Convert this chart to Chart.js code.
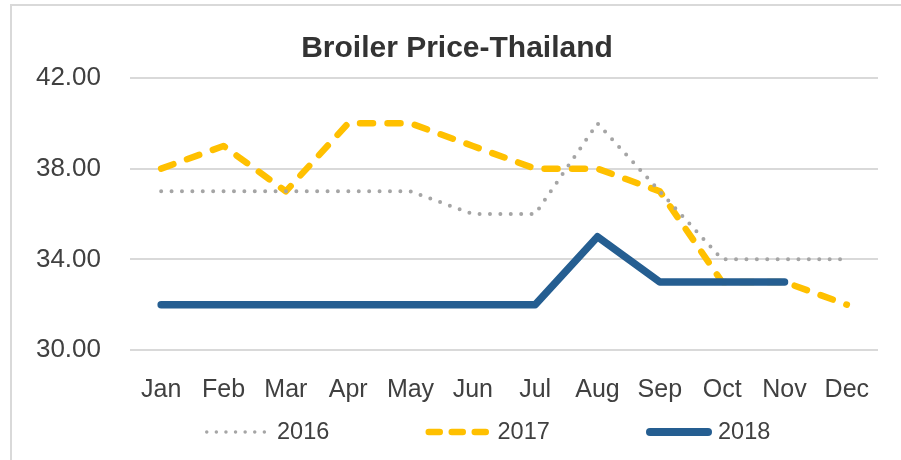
<!DOCTYPE html>
<html>
<head>
<meta charset="utf-8">
<script src="https://cdn.jsdelivr.net/npm/chart.js@4.4.1/dist/chart.umd.min.js"></script>
<style>
  html, body { margin: 0; padding: 0; background: #fff; overflow: hidden; }
  #wrap { position: relative; width: 901px; height: 460px; }
  #frame { position: absolute; left: 10px; top: 4px; width: 940px; height: 500px; border: 2px solid #d9d9d9; box-sizing: border-box; }
  canvas { position: absolute; left: 0; top: 0; }
</style>
</head>
<body>
<div id="wrap">
  <div id="frame"></div>
  <canvas id="line-chart" width="901" height="460"></canvas>
</div>
<script>
var months = ["Jan", "Feb", "Mar", "Apr", "May", "Jun", "Jul", "Aug", "Sep", "Oct", "Nov", "Dec"];
var yTicks = [30, 34, 38, 42];
var price2016 = [37, 37, 37, 37, 37, 36, 36, 40, 37, 34, 34, 34];
var price2017 = [38, 39, 37, 40, 40, 39, 38, 38, 37, 33, 33, 32];
var price2018 = [32, 32, 32, 32, 32, 32, 32, 35, 33, 33, 33, null];

var FONT = "'Liberation Sans', Arial, sans-serif";
var TEXT = "#404040";

// legend drawn by hand so it can sit where the Excel one does
var manualLegend = {
  id: "manualLegend",
  afterDraw: function (chart) {
    var ctx = chart.ctx;
    var y = 432;
    chart.data.datasets.forEach(function (ds, i) {
      var x0 = 205 + i * 220.5;
      ctx.save();
      ctx.strokeStyle = ds.borderColor;
      ctx.lineWidth = ds.legendWidth;
      ctx.lineCap = "round";
      ctx.setLineDash(ds.legendDash || []);
      ctx.beginPath();
      ctx.moveTo(x0 + ds.legendWidth / 2, y);
      ctx.lineTo(x0 + 66 - ds.legendWidth / 2, y);
      ctx.stroke();
      ctx.setLineDash([]);
      ctx.fillStyle = TEXT;
      ctx.font = "23.5px " + FONT;
      ctx.textAlign = "left";
      ctx.textBaseline = "middle";
      ctx.fillText(ds.label, x0 + 72, y + 1);
      ctx.restore();
    });
  }
};

var lineChart = new Chart(document.getElementById("line-chart"), {
  type: "line",
  data: {
    labels: months,
    datasets: [
      {
        label: "2016",
        data: price2016,
        borderColor: "#a5a5a5",
        borderWidth: 4,
        borderDash: [0, 10.4],
        borderCapStyle: "round",
        borderJoinStyle: "round",
        legendWidth: 3.5,
        legendDash: [0, 9.6],
        order: 1
      },
      {
        label: "2017",
        data: price2017,
        borderColor: "#ffc000",
        borderWidth: 6.5,
        borderDash: [13, 14.5],
        borderCapStyle: "round",
        borderJoinStyle: "round",
        legendWidth: 6.5,
        legendDash: [11, 12],
        order: 2
      },
      {
        label: "2018",
        data: price2018,
        borderColor: "#255e91",
        borderWidth: 7.5,
        borderCapStyle: "round",
        borderJoinStyle: "round",
        legendWidth: 8,
        order: 0
      }
    ]
  },
  options: {
    responsive: false,
    animation: false,
    elements: { point: { radius: 0, hoverRadius: 0 }, line: { tension: 0 } },
    layout: { padding: { left: 36, right: 23, top: 0, bottom: 30 } },
    plugins: {
      legend: { display: false },
      tooltip: { enabled: false },
      title: {
        display: true,
        text: "Broiler Price-Thailand",
        color: "#333333",
        font: { family: FONT, size: 30, weight: "bold" },
        padding: { top: 31, bottom: 11 }
      }
    },
    scales: {
      x: {
        offset: true,
        grid: { display: false, drawTicks: false },
        border: { display: false },
        ticks: {
          color: TEXT,
          font: { family: FONT, size: 25 },
          padding: 25,
          maxRotation: 0,
          autoSkip: false
        }
      },
      y: {
        min: yTicks[0],
        max: yTicks[yTicks.length - 1],
        afterBuildTicks: function (scale) {
          scale.ticks = yTicks.map(function (v) { return { value: v }; });
        },
        afterFit: function (scale) {
          scale.width = 94;
        },
        grid: { color: "#d9d9d9", lineWidth: 2, drawTicks: false },
        border: { display: false },
        ticks: {
          color: TEXT,
          font: { family: FONT, size: 26 },
          padding: 29,
          callback: function (v) { return Number(v).toFixed(2); }
        }
      }
    }
  },
  plugins: [manualLegend]
});
</script>
</body>
</html>
